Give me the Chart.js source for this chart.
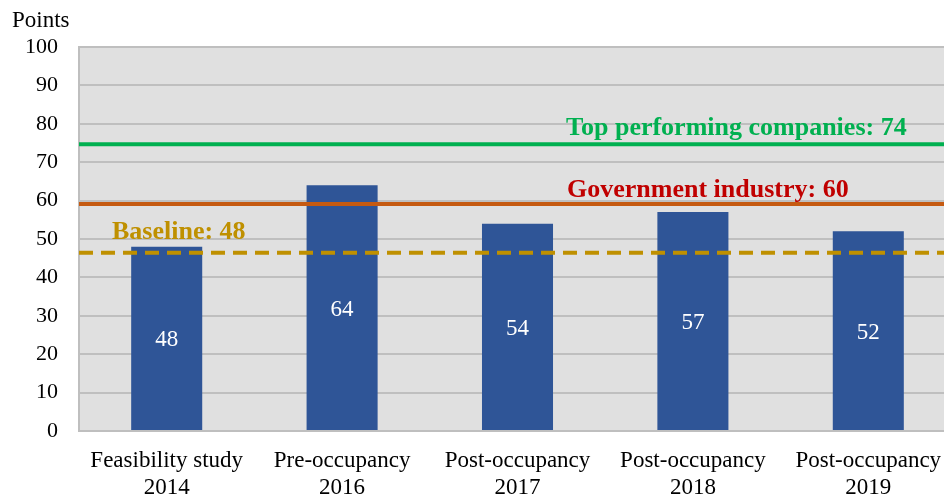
<!DOCTYPE html>
<html lang="en">
<head>
    <meta charset="UTF-8">
    <title>Points by stage</title>
    <script src="https://cdn.jsdelivr.net/npm/chart.js"></script>
    <style>
        html, body { margin: 0; padding: 0; background: #fff; overflow: hidden; }
        .wrap { width: 944px; height: 494px; overflow: hidden; }
    </style>
</head>
<body>
    <!-- the plot runs a little past the right edge in the original, so the canvas is wider than the window -->
    <div class="wrap"><canvas id="pointsChart" width="956" height="494"></canvas></div>

    <script>
        const stages = [
            ["Feasibility study", "2014"],
            ["Pre-occupancy", "2016"],
            ["Post-occupancy", "2017"],
            ["Post-occupancy", "2018"],
            ["Post-occupancy", "2019"]
        ];
        const scores = [48, 64, 54, 57, 52];
        const yTicks = [0, 10, 20, 30, 40, 50, 60, 70, 80, 90, 100];

        // reference lines (drawn where they sit in the picture) and their captions
        const refLabels = ["Top performing companies: 74", "Government industry: 60", "Baseline: 48"];
        const refValues = [74.7, 59.1, 46.4];
        const refColors = ["#00B050", "#C55A11", "#BF9000"];
        const refTextColors = ["#00B050", "#C00000", "#BF9000"];
        const refDashed = [false, false, true];

        const serif = '"Liberation Serif", "Times New Roman", serif';

        const decorPlugin = {
            id: "decor",
            beforeDraw(chart) {
                const { ctx, chartArea } = chart;
                ctx.save();
                ctx.fillStyle = "#e0e0e0";
                ctx.fillRect(chartArea.left, chartArea.top, chartArea.right - chartArea.left, chartArea.bottom - chartArea.top);
                ctx.restore();
            },
            afterDatasetsDraw(chart) {
                const { ctx, chartArea } = chart;
                const y = chart.scales.y;
                ctx.save();

                // horizontal reference lines
                refValues.forEach((v, i) => {
                    const py = y.getPixelForValue(v);
                    ctx.beginPath();
                    ctx.strokeStyle = refColors[i];
                    ctx.lineWidth = 4;
                    ctx.setLineDash(refDashed[i] ? [14, 8] : []);
                    ctx.moveTo(chartArea.left, py);
                    ctx.lineTo(chartArea.right, py);
                    ctx.stroke();
                });
                ctx.setLineDash([]);

                // captions
                ctx.font = "bold 26px " + serif;
                ctx.textBaseline = "alphabetic";
                ctx.textAlign = "left";
                const capX = [566, 567, 112];
                const capY = [135, 197, 239];
                refLabels.forEach((t, i) => {
                    ctx.fillStyle = refTextColors[i];
                    ctx.fillText(t, capX[i], capY[i]);
                });

                // value labels inside bars
                const meta = chart.getDatasetMeta(0);
                ctx.fillStyle = "#ffffff";
                ctx.font = "23px " + serif;
                ctx.textAlign = "center";
                ctx.textBaseline = "middle";
                meta.data.forEach((bar, i) => {
                    ctx.fillText(String(scores[i]), bar.x, (bar.y + bar.base) / 2 + 2);
                });

                // axis unit
                ctx.fillStyle = "#000";
                ctx.textAlign = "left";
                ctx.textBaseline = "middle";
                ctx.font = "23px " + serif;
                ctx.fillText("Points", 12, 21);
                ctx.restore();
            }
        };

        const ctx = document.getElementById("pointsChart").getContext("2d");
        new Chart(ctx, {
            type: "bar",
            data: {
                labels: stages,
                datasets: [{
                    data: scores,
                    backgroundColor: "#2F5597",
                    borderWidth: 0,
                    categoryPercentage: 1,
                    barPercentage: 0.405
                }]
            },
            options: {
                responsive: false,
                animation: false,
                layout: { padding: { top: 47, right: 0, bottom: 0, left: 0 } },
                plugins: {
                    legend: { display: false },
                    tooltip: { enabled: false }
                },
                scales: {
                    x: {
                        grid: { display: false },
                        border: { display: false },
                        ticks: {
                            color: "#000",
                            font: { family: serif, size: 23, lineHeight: 1.15 },
                            padding: 9,
                            maxRotation: 0,
                            autoSkip: false
                        },
                        afterFit(scale) { scale.height = 63; }
                    },
                    y: {
                        min: 0,
                        max: 100,
                        afterBuildTicks(scale) { scale.ticks = yTicks.map(v => ({ value: v })); },
                        grid: { color: "#bfbfbf", lineWidth: 2, drawTicks: false },
                        border: { color: "#bfbfbf", width: 2 },
                        ticks: {
                            color: "#000",
                            font: { family: serif, size: 22 },
                            padding: 21
                        },
                        afterFit(scale) { scale.width = 79; }
                    }
                }
            },
            plugins: [decorPlugin]
        });
    </script>
</body>
</html>
